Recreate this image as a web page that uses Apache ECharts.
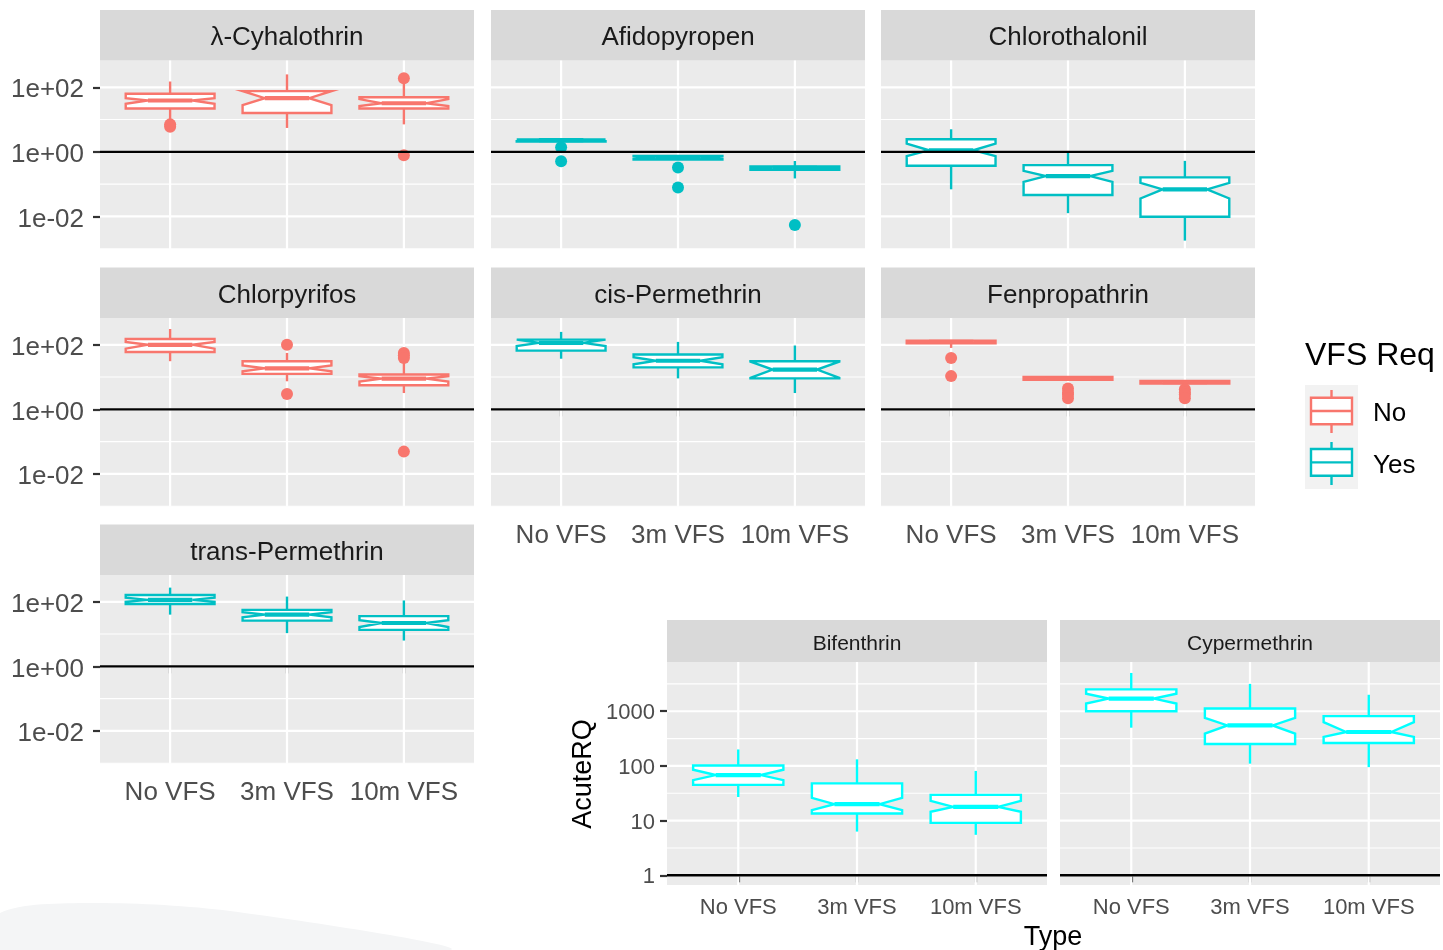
<!DOCTYPE html>
<html><head><meta charset="utf-8">
<script src="https://cdn.jsdelivr.net/npm/echarts@6/dist/echarts.min.js"></script>
<style>html,body{margin:0;padding:0;background:#fff}#c{width:1443px;height:950px}</style>
</head><body><div id="c"></div>
<script>
// ---------- data (AcuteRQ, linear units) ----------
const categories = ['No VFS', '3m VFS', '10m VFS'];
const topBreaks = [0.01, 1, 100];
const topBreakLabels = ['1e-02', '1e+00', '1e+02'];
const bottomBreaks = [1, 10, 100, 1000];
const bottomBreakLabels = ['1', '10', '100', '1000'];
const referenceLine = 1;
const legendLevels = ['No', 'Yes'];

// box stats per category: [lower whisker, Q1, notch lower, median, notch upper, Q3, upper whisker]
const lambdaCyhalothrin = [[8.3, 22, 31, 39, 46, 63, 151], [5.5, 16, 28, 46, 76, 76, 251], [7.1, 22, 26, 32, 43, 49, 135]];
const lambdaCyhalothrinOutliers = [[1, 6.0], [1, 7.1], [3, 191], [3, 0.78]];
const afidopyropen = [[2.0, 2.1, 2.15, 2.3, 2.4, 2.4, 2.5], [0.55, 0.58, 0.6, 0.66, 0.72, 0.74, 0.79], [0.15, 0.28, 0.29, 0.32, 0.34, 0.35, 0.52]];
const afidopyropenOutliers = [[1, 1.4], [1, 0.51], [2, 0.33], [2, 0.078], [3, 0.0054]];
const chlorothalonil = [[0.069, 0.37, 0.74, 1.12, 1.8, 2.45, 5.0], [0.0126, 0.046, 0.117, 0.178, 0.257, 0.389, 0.93], [0.00178, 0.0098, 0.036, 0.069, 0.11, 0.162, 0.525]];
const chlorothalonilOutliers = [];
const chlorpyrifos = [[31, 60, 76, 100, 123, 151, 309], [7.4, 12.6, 15, 18.6, 23, 31, 56], [3.2, 5.6, 7.2, 8.9, 10.7, 12, 28]];
const chlorpyrifosOutliers = [[2, 100], [2, 3.0], [3, 56], [3, 47], [3, 39], [3, 0.049]];
const cisPermethrin = [[37, 66, 91, 115, 145, 145, 251], [9.1, 20, 25, 32, 41, 50, 123], [3.2, 9.1, 9.5, 17, 30, 31, 95]];
const cisPermethrinOutliers = [];
const fenpropathrin = [[80, 112, 118, 123, 129, 135, 137], [7.6, 8.3, 8.7, 9.1, 9.5, 10, 10.5], [6.0, 6.3, 6.6, 6.9, 7.2, 7.6, 8.1]];
const fenpropathrinOutliers = [[1, 39], [1, 10.7], [2, 4.4], [2, 3.3], [2, 2.9], [2, 2.2], [3, 4.2], [3, 3.3], [3, 2.9], [3, 2.2]];
const transPermethrin = [[40, 85, 100, 115, 135, 162, 275], [10.7, 26, 33, 40, 48, 56, 145], [6.3, 13.5, 16.6, 22, 27, 36, 110]];
const transPermethrinOutliers = [];
const bifenthrin = [[27, 45, 55, 68, 85, 102, 200], [6.3, 13.5, 15.5, 20, 26, 48, 132], [5.5, 9.1, 14.5, 17.8, 23, 29.5, 81]];
const bifenthrinOutliers = [];
const cypermethrin = [[500, 1000, 1380, 1700, 2090, 2510, 5010], [110, 251, 389, 550, 759, 1120, 3160], [95, 263, 339, 417, 631, 813, 2000]];
const cypermethrinOutliers = [];

// ---------- styling / layout ----------
const FONT = "'Liberation Sans', Arial, Helvetica, sans-serif";
const RED = '#F8766D', TEAL = '#00BFC4', CYAN = '#00FFFF';
const BOX_WIDTH = 0.76, NOTCH_WIDTH = 0.5;
const LW = 2.4, MW = 4.2;
const colL = [100, 491, 881], colW = 374;
const stripTop = [10, 267.5, 524.5], stripH = 50.5, panelH = 188.5;
const TOP_Y = { min: -3.01, max: 2.83, breaks: topBreaks, labels: topBreakLabels, font: 26, stripFont: 26 };
const BOT_Y = { min: -0.177, max: 3.90, breaks: bottomBreaks, labels: bottomBreakLabels, font: 22, stripFont: 21 };

const facets = [
  { title: 'λ-Cyhalothrin', boxes: lambdaCyhalothrin, out: lambdaCyhalothrinOutliers, color: RED, left: colL[0], st: stripTop[0], w: colW, sh: stripH, h: panelH, ax: TOP_Y, yLab: true, xLab: false },
  { title: 'Afidopyropen', boxes: afidopyropen, out: afidopyropenOutliers, color: TEAL, left: colL[1], st: stripTop[0], w: colW, sh: stripH, h: panelH, ax: TOP_Y, yLab: false, xLab: false },
  { title: 'Chlorothalonil', boxes: chlorothalonil, out: chlorothalonilOutliers, color: TEAL, left: colL[2], st: stripTop[0], w: colW, sh: stripH, h: panelH, ax: TOP_Y, yLab: false, xLab: false },
  { title: 'Chlorpyrifos', boxes: chlorpyrifos, out: chlorpyrifosOutliers, color: RED, left: colL[0], st: stripTop[1], w: colW, sh: stripH, h: panelH, ax: TOP_Y, yLab: true, xLab: false },
  { title: 'cis-Permethrin', boxes: cisPermethrin, out: cisPermethrinOutliers, color: TEAL, left: colL[1], st: stripTop[1], w: colW, sh: stripH, h: panelH, ax: TOP_Y, yLab: false, xLab: true },
  { title: 'Fenpropathrin', boxes: fenpropathrin, out: fenpropathrinOutliers, color: RED, left: colL[2], st: stripTop[1], w: colW, sh: stripH, h: panelH, ax: TOP_Y, yLab: false, xLab: true },
  { title: 'trans-Permethrin', boxes: transPermethrin, out: transPermethrinOutliers, color: TEAL, left: colL[0], st: stripTop[2], w: colW, sh: stripH, h: panelH, ax: TOP_Y, yLab: true, xLab: true },
  { title: 'Bifenthrin', boxes: bifenthrin, out: bifenthrinOutliers, color: CYAN, left: 667, st: 620, w: 380, sh: 42, h: 223, ax: BOT_Y, yLab: true, xLab: true, small: true },
  { title: 'Cypermethrin', boxes: cypermethrin, out: cypermethrinOutliers, color: CYAN, left: 1060, st: 620, w: 380, sh: 42, h: 223, ax: BOT_Y, yLab: false, xLab: true, small: true }
];

const L10 = Math.log10;

function gridRender(ax) {
  const major = ax.breaks.map(L10);
  const step = major[1] - major[0];
  const minor = [major[0] - step / 2].concat(major.map(m => m + step / 2));
  return function (params, api) {
    const cs = params.coordSys;
    const ch = [];
    const hl = (v, w) => {
      if (v < ax.min || v > ax.max) return;
      const y = api.coord([1, v])[1];
      ch.push({ type: 'line', shape: { x1: cs.x, y1: y, x2: cs.x + cs.width, y2: y }, style: { stroke: '#FFFFFF', lineWidth: w } });
    };
    minor.forEach(v => hl(v, 1.1));
    major.forEach(v => hl(v, 2.2));
    [1, 2, 3].forEach(c => {
      const x = api.coord([c, 0])[0];
      ch.push({ type: 'line', shape: { x1: x, y1: cs.y, x2: x, y2: cs.y + cs.height }, style: { stroke: '#FFFFFF', lineWidth: 2.2 } });
    });
    return { type: 'group', children: ch, silent: true };
  };
}

function refRender(params, api) {
  const cs = params.coordSys;
  const y = api.coord([1, api.value(0)])[1];
  return { type: 'line', shape: { x1: cs.x, y1: y, x2: cs.x + cs.width, y2: y }, style: { stroke: '#000000', lineWidth: 2.4 } };
}

function boxRender(color) {
  return function (params, api) {
    const x = api.value(0);
    const lo = api.value(1), q1 = api.value(2), nl = api.value(3), md = api.value(4), nu = api.value(5), q3 = api.value(6), hi = api.value(7);
    const hw = BOX_WIDTH / 2, ind = BOX_WIDTH * (1 - NOTCH_WIDTH) / 2;
    const P = (a, b) => api.coord([a, b]);
    const pts = [P(x - hw, q3), P(x - hw, nu), P(x - hw + ind, md), P(x - hw, nl), P(x - hw, q1),
                 P(x + hw, q1), P(x + hw, nl), P(x + hw - ind, md), P(x + hw, nu), P(x + hw, q3)];
    const a = P(x, q3), b = P(x, hi), c = P(x, q1), d = P(x, lo), m1 = P(x - hw + ind, md), m2 = P(x + hw - ind, md);
    return { type: 'group', children: [
      { type: 'line', shape: { x1: a[0], y1: a[1], x2: b[0], y2: b[1] }, style: { stroke: color, lineWidth: LW } },
      { type: 'line', shape: { x1: c[0], y1: c[1], x2: d[0], y2: d[1] }, style: { stroke: color, lineWidth: LW } },
      { type: 'polygon', shape: { points: pts }, style: { fill: '#FFFFFF', stroke: color, lineWidth: LW, lineJoin: 'miter' } },
      { type: 'line', shape: { x1: m1[0], y1: m1[1], x2: m2[0], y2: m2[1] }, style: { stroke: color, lineWidth: MW } }
    ] };
  };
}

const grids = [], xAxes = [], yAxes = [], series = [], graphics = [];
// faint background swoosh (bottom-left)
graphics.push({ type: 'polygon', shape: { points: [[0, 913], [90, 903], [230, 911], [450, 950], [0, 950]], smooth: 0.3 }, style: { fill: '#F4F5F6' }, silent: true, z: -10 });

facets.forEach((f, i) => {
  const top = f.st + f.sh;
  grids.push({ left: f.left, top: top, width: f.w, height: f.h, show: true, backgroundColor: '#EBEBEB', borderWidth: 0, containLabel: false });
  const fs = f.ax.font;
  xAxes.push({
    gridIndex: i, type: 'value', min: 0.4, max: 3.6,
    axisLine: { show: false }, splitLine: { show: false },
    axisTick: { show: f.xLab, customValues: [1, 2, 3], length: 7, lineStyle: { color: '#333333', width: 2.2 } },
    axisLabel: { show: f.xLab, customValues: [1, 2, 3], formatter: v => categories[Math.round(v) - 1], color: '#4D4D4D', fontSize: fs, fontFamily: FONT, margin: f.small ? 12 : 16 }
  });
  const logBreaks = f.ax.breaks.map(L10);
  yAxes.push({
    gridIndex: i, type: 'value', min: f.ax.min, max: f.ax.max,
    axisLine: { show: false }, splitLine: { show: false },
    axisTick: { show: f.yLab, customValues: logBreaks, length: 7, lineStyle: { color: '#333333', width: 2.2 } },
    axisLabel: { show: f.yLab, customValues: logBreaks, formatter: v => {
      let k = 0, best = 1e9;
      logBreaks.forEach((b, j) => { if (Math.abs(b - v) < best) { best = Math.abs(b - v); k = j; } });
      return '{t|' + f.ax.labels[k] + '}';
    }, margin: f.small ? 12 : 16,
      rich: { t: { color: '#4D4D4D', fontSize: fs, fontFamily: FONT, padding: [f.small ? 4 : 6, 0, 0, 0] } } }
  });
  series.push({ type: 'custom', xAxisIndex: i, yAxisIndex: i, renderItem: gridRender(f.ax), data: [[0]], z: 1, silent: true });
  series.push({
    type: 'custom', xAxisIndex: i, yAxisIndex: i, renderItem: boxRender(f.color), z: 3, silent: true,
    data: f.boxes.map((b, k) => [k + 1].concat(b.map(L10)))
  });
  series.push({
    type: 'scatter', xAxisIndex: i, yAxisIndex: i, symbol: 'circle', symbolSize: 12, z: 4, silent: true,
    itemStyle: { color: f.color, opacity: 1 },
    data: f.out.map(o => [o[0], L10(o[1])])
  });
  series.push({ type: 'custom', xAxisIndex: i, yAxisIndex: i, renderItem: refRender, data: [[L10(referenceLine)]], z: 5, silent: true });
  // strip
  graphics.push({ type: 'rect', shape: { x: f.left, y: f.st, width: f.w, height: f.sh }, style: { fill: '#D9D9D9' }, silent: true });
  graphics.push({ type: 'text', x: f.left + f.w / 2, y: f.st + f.sh / 2 + 3, style: { text: f.title, fill: '#1A1A1A', font: f.ax.stripFont + 'px ' + FONT, align: 'center', verticalAlign: 'middle' }, silent: true });
});

// axis titles of the lower plot
graphics.push({ type: 'text', x: 584, y: 774, rotation: Math.PI / 2, style: { text: 'AcuteRQ', fill: '#000000', font: '27px ' + FONT, align: 'center', verticalAlign: 'middle' }, silent: true });
graphics.push({ type: 'text', x: 1053, y: 938, style: { text: 'Type', fill: '#000000', font: '27px ' + FONT, align: 'center', verticalAlign: 'middle' }, silent: true });

// legend
graphics.push({ type: 'text', x: 1305, y: 356, style: { text: 'VFS Req', fill: '#000000', font: '32px ' + FONT, align: 'left', verticalAlign: 'middle' }, silent: true });
graphics.push({ type: 'rect', shape: { x: 1305, y: 385, width: 53, height: 104 }, style: { fill: '#F2F2F2' }, silent: true });
[[RED, 390, 397.7, 424.3, 433, 414], [TEAL, 442, 449, 475.7, 485, 466]].forEach((k, j) => {
  const [c, w1, b1, b2, w2, ty] = k;
  graphics.push({ type: 'line', shape: { x1: 1331.5, y1: w1, x2: 1331.5, y2: w2 }, style: { stroke: c, lineWidth: LW }, silent: true });
  graphics.push({ type: 'rect', shape: { x: 1311, y: b1, width: 41, height: b2 - b1 }, style: { fill: '#FFFFFF', stroke: c, lineWidth: LW }, silent: true });
  graphics.push({ type: 'line', shape: { x1: 1311, y1: (b1 + b2) / 2, x2: 1352, y2: (b1 + b2) / 2 }, style: { stroke: c, lineWidth: LW }, silent: true });
  graphics.push({ type: 'text', x: 1373, y: ty, style: { text: legendLevels[j], fill: '#000000', font: '26px ' + FONT, align: 'left', verticalAlign: 'middle' }, silent: true });
});

const chart = echarts.init(document.getElementById('c'), null, { renderer: 'canvas' });
chart.setOption({
  backgroundColor: '#FFFFFF',
  animation: false,
  grid: grids, xAxis: xAxes, yAxis: yAxes, series: series,
  graphic: { elements: graphics }
});
</script></body></html>
